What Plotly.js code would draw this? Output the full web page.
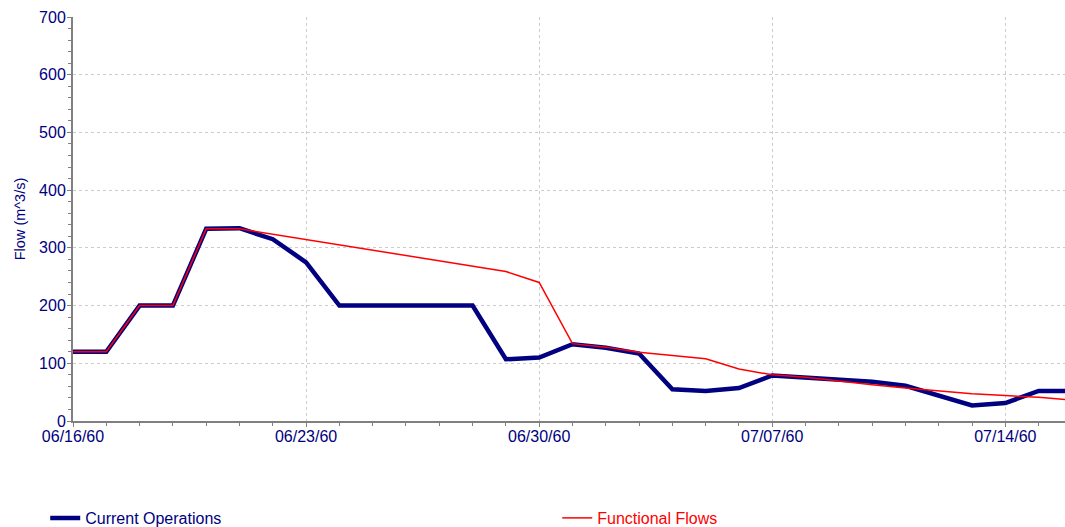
<!DOCTYPE html>
<html>
<head>
<meta charset="utf-8">
<script src="https://cdn.plot.ly/plotly-3.0.1.min.js"></script>
<style>html,body{margin:0;padding:0;background:#fff;}#chart{width:1065px;height:527px;}</style>
</head>
<body>
<div id="chart"></div>
<script>
// Current Operations (daily)
var currentDates = ['1960-06-16','1960-06-17','1960-06-18','1960-06-19','1960-06-20','1960-06-21','1960-06-22','1960-06-23','1960-06-24','1960-06-25','1960-06-26','1960-06-27','1960-06-28','1960-06-29','1960-06-30','1960-07-01','1960-07-02','1960-07-03','1960-07-04','1960-07-05','1960-07-06','1960-07-07','1960-07-08','1960-07-09','1960-07-10','1960-07-11','1960-07-12','1960-07-13','1960-07-14','1960-07-15','1960-07-16'];
var currentFlow = [120,120,200,200,333,334,315,275,200,200,200,200,200,107,110,133,127,117,55,52,57,79,75,72,68,61,45,27,31,52,52];

// Functional Flows
var functionalDates = ['1960-06-16','1960-06-17','1960-06-18','1960-06-19','1960-06-20','1960-06-21','1960-06-29','1960-06-30','1960-07-01','1960-07-02','1960-07-03','1960-07-04','1960-07-05','1960-07-06','1960-07-07','1960-07-08','1960-07-09','1960-07-10','1960-07-11','1960-07-12','1960-07-13','1960-07-14','1960-07-15','1960-07-16'];
var functionalFlow = [120,120,200,200,333,333,259,240,134,128,119,114,108,90,80,76,69,63,57,52,47,44,41,36];

var navy = '#000080';
var axisGray = '#808080';

var traces = [
  {x: currentDates, y: currentFlow, type: 'scatter', mode: 'lines', name: 'Current Operations',
   line: {color: navy, width: 4.5}},
  {x: functionalDates, y: functionalFlow, type: 'scatter', mode: 'lines',
   name: '<span style="color:#ff0000">Functional Flows</span>',
   line: {color: '#ff0000', width: 1.5}}
];

var layout = {
  width: 1065, height: 527,
  margin: {l: 73, r: 0, t: 17, b: 106, autoexpand: false},
  paper_bgcolor: '#ffffff', plot_bgcolor: '#ffffff',
  font: {family: 'Liberation Sans, Arial, sans-serif', color: navy, size: 16},
  showlegend: true,
  legend: {orientation: 'h', x: -0.028, y: -0.198, xanchor: 'left', yanchor: 'top',
           entrywidth: 467, entrywidthmode: 'pixels', font: {size: 16, color: navy},
           bgcolor: 'rgba(0,0,0,0)'},
  xaxis: {
    type: 'date',
    range: ['1960-06-16', '1960-07-15 19:00'],
    tick0: '1960-06-16', dtick: 7 * 86400000,
    tickformat: '%m/%d/%y',
    ticks: 'outside', ticklen: 4, tickcolor: axisGray, tickwidth: 1,
    ticklabelstandoff: -4,
    showline: true, linecolor: axisGray, linewidth: 2,
    showgrid: true, gridcolor: '#cccccc', griddash: 'dot', gridwidth: 1,
    zeroline: false,
    tickfont: {size: 16, color: navy},
    minor: {dtick: 86400000, tick0: '1960-06-16', ticks: 'outside', ticklen: 3, tickcolor: axisGray, showgrid: false}
  },
  yaxis: {
    range: [0, 700], dtick: 100, tick0: 0,
    ticks: 'outside', ticklen: 4, tickcolor: axisGray, tickwidth: 1,
    ticklabelstandoff: -2,
    showline: true, linecolor: axisGray, linewidth: 2,
    showgrid: true, gridcolor: '#cccccc', griddash: 'dot', gridwidth: 1,
    zeroline: false,
    tickfont: {size: 16, color: navy},
    title: {text: 'Flow (m^3/s)', font: {size: 14.5, color: navy}, standoff: 10},
    minor: {dtick: 20, ticks: 'outside', ticklen: 3, tickcolor: axisGray, showgrid: false}
  }
};

Plotly.newPlot('chart', traces, layout, {displayModeBar: false, staticPlot: true});
</script>
</body>
</html>
